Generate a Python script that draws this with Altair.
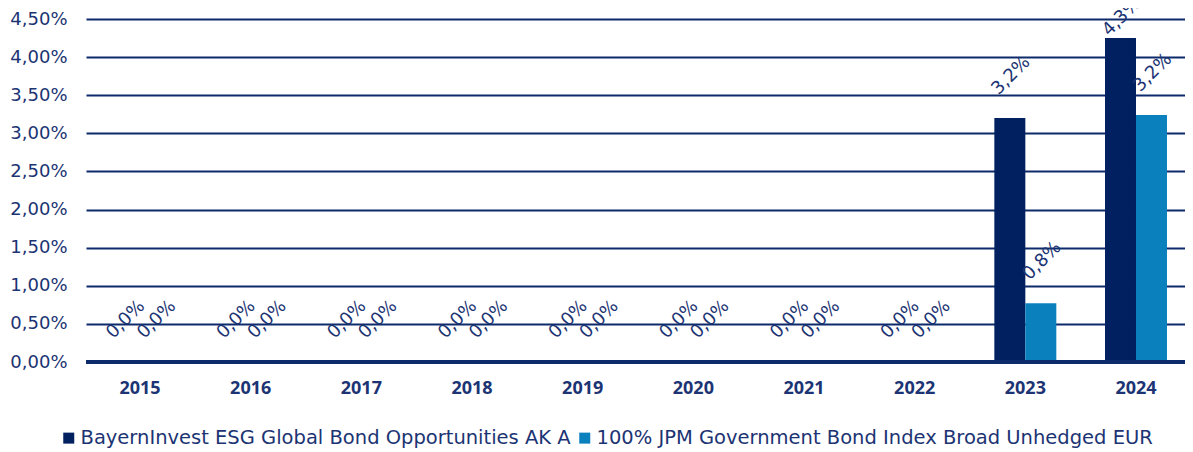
import altair as alt
import pandas as pd

years = ["2015", "2016", "2017", "2018", "2019", "2020", "2021", "2022", "2023", "2024"]
fund = [0, 0, 0, 0, 0, 0, 0, 0, 3.2, 4.25]
bench = [0, 0, 0, 0, 0, 0, 0, 0, 0.77, 3.24]
series = ["BayernInvest ESG Global Bond Opportunities AK A",
          "100% JPM Government Bond Index Broad Unhedged EUR"]
colors = ["#002060", "#0A80BC"]
ticks = [0.0, 0.5, 1.0, 1.5, 2.0, 2.5, 3.0, 3.5, 4.0, 4.5]

rows = []
for i, y in enumerate(years):
    rows.append({"year": y, "series": series[0], "v": fund[i], "o": 0})
    rows.append({"year": y, "series": series[1], "v": bench[i], "o": 1})
df = pd.DataFrame(rows)

TXT = "#1C3473"
FONT = "DejaVu Sans"

yscale = alt.Scale(domain=[0, 4.5], nice=False)
xscale = alt.Scale(paddingInner=0.44, paddingOuter=0.208, range=[0, 1104])
xaxis = alt.Axis(labelAngle=0, labelFontWeight="bold", labelFontSize=18,
                 labelColor=TXT, labelFont="Open Sans", domain=False, ticks=False,
                 labelPadding=17, grid=False)
yaxis = alt.Axis(values=ticks,
                 labelExpr="replace(format(datum.value, '.2f'), '.', ',') + '%'",
                 labelOverlap=False, labelFontSize=18, labelColor=TXT, labelFont=FONT,
                 domain=False, ticks=False, labelPadding=19, grid=True,
                 gridColor="#0D2A6B", gridWidth=2, gridOpacity=1)

base = alt.Chart(df)

bars = base.mark_bar().encode(
    x=alt.X("year:N", sort=years, title=None, scale=xscale, axis=xaxis),
    xOffset=alt.XOffset("o:O", scale=alt.Scale(paddingInner=0, paddingOuter=0)),
    y=alt.Y("v:Q", title=None, scale=yscale, axis=yaxis),
    color=alt.Color("series:N", sort=series,
                    scale=alt.Scale(domain=series, range=colors),
                    legend=alt.Legend(title=None, orient="none", direction="horizontal",
                                      legendX=-27, legendY=409, symbolType="square",
                                      symbolSize=121, symbolStrokeWidth=0, labelFontSize=19.5,
                                      labelFont=FONT, labelColor=TXT, columnPadding=4,
                                      symbolOffset=0, labelOffset=2, labelLimit=700,
                                      padding=0)),
)

labels = base.transform_calculate(
    lab="replace(format(datum.v, '.1f'), '.', ',') + '%'",
    ly="min(datum.v, 3.97)",
).mark_text(angle=315, align="left", baseline="bottom", dx=8, dy=-20,
            fontSize=18, font=FONT, color=TXT).encode(
    x=alt.X("year:N", sort=years, title=None, scale=xscale, axis=xaxis),
    xOffset=alt.XOffset("o:O"),
    y=alt.Y("ly:Q", title=None, scale=yscale, axis=yaxis),
    text="lab:N",
)

baseline = alt.Chart(pd.DataFrame({"v": [0.0]})).mark_rule(color="#0D2A6B", strokeWidth=4).encode(
    y=alt.Y("v:Q", title=None, scale=yscale, axis=yaxis)
)

chart = alt.layer(bars, baseline, labels).properties(
    width=1099, height=343,
    autosize=alt.AutoSizeParams(type="none"),
    padding={"left": 78, "top": 11, "right": 0, "bottom": 94},
).configure_view(stroke=None)

chart.save("out.html", embed_options={"renderer": "svg", "actions": False})
